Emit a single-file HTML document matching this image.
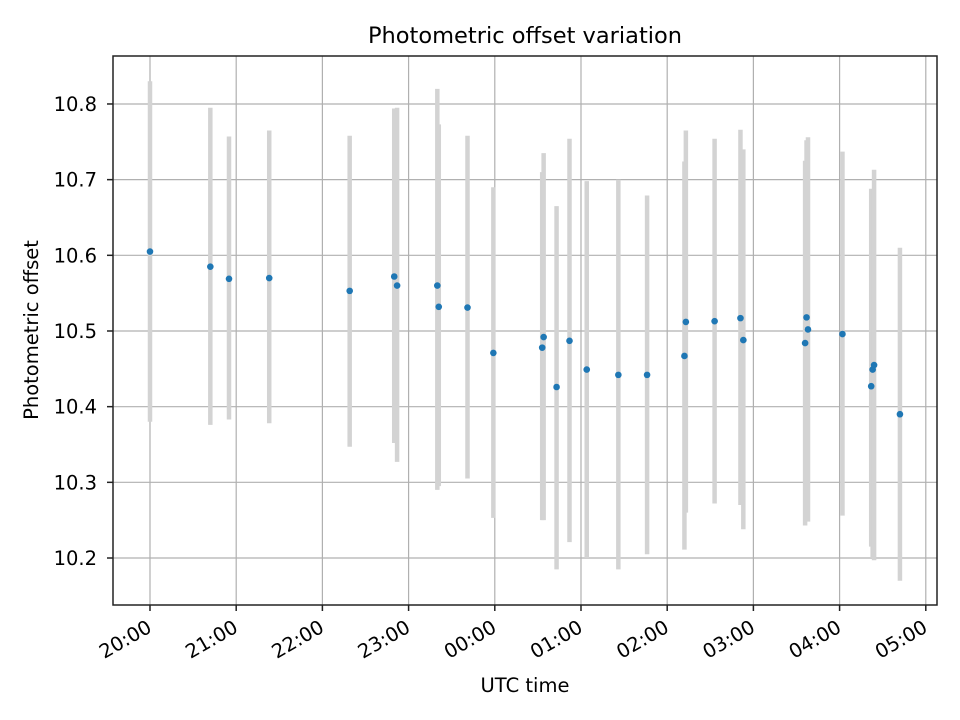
<!DOCTYPE html>
<html><head><meta charset="utf-8"><style>
html,body{margin:0;padding:0;background:#fff;}
svg{display:block;font-family:"DejaVu Sans","Liberation Sans",sans-serif;}
</style></head><body>
<svg id="chart" width="960" height="720" viewBox="0 0 960 720">
<rect width="960" height="720" fill="#fff"/>
<g id="grid"></g>
<g id="bars"></g>
<g id="pts"></g>
<rect x="113" y="56" width="824" height="549" fill="none" stroke="#222" stroke-width="1.5"/>
<g id="xt"></g><g id="yt"></g>
<text x="525" y="43" text-anchor="middle" font-size="22.5">Photometric offset variation</text>
<text x="525" y="692" text-anchor="middle" font-size="19.5">UTC time</text>
<text transform="translate(38,330) rotate(-90)" text-anchor="middle" font-size="19.5">Photometric offset</text>
</svg>
<script>
// minutes since 20:00
const times=[0,42,55,83,139,170,172,200,201,221,239,273,274,283,292,304,326,346,372,373,393,411,413,456,457,458,482,502,503,504,522];
const values=[10.605,10.585,10.569,10.570,10.553,10.572,10.560,10.560,10.532,10.531,10.471,10.478,10.492,10.426,10.487,10.449,10.442,10.442,10.467,10.512,10.513,10.517,10.488,10.484,10.518,10.502,10.496,10.427,10.449,10.455,10.390];
const lows=[10.38,10.376,10.383,10.378,10.347,10.352,10.327,10.29,10.295,10.305,10.253,10.25,10.25,10.185,10.221,10.2,10.185,10.205,10.211,10.26,10.272,10.27,10.238,10.243,10.25,10.248,10.256,10.215,10.2,10.197,10.170];
const highs=[10.83,10.795,10.757,10.765,10.758,10.794,10.795,10.82,10.773,10.758,10.690,10.71,10.735,10.665,10.754,10.698,10.70,10.679,10.724,10.765,10.754,10.766,10.740,10.725,10.752,10.756,10.737,10.688,10.643,10.713,10.610];
const xTickLabels=["20:00","21:00","22:00","23:00","00:00","01:00","02:00","03:00","04:00","05:00"];
const yTicks=[10.2,10.3,10.4,10.5,10.6,10.7,10.8];
const NS="http://www.w3.org/2000/svg";
const X0=113,X1=937,Y0=605,Y1=56,XMIN=-25.75,XMAX=547.8,YMIN=10.1379,YMAX=10.8634;
const sx=m=>X0+(m-XMIN)/(XMAX-XMIN)*(X1-X0);
const sy=v=>Y0-(v-YMIN)/(YMAX-YMIN)*(Y0-Y1);
function mk(tag,attrs,parent){const e=document.createElementNS(NS,tag);for(const k in attrs)e.setAttribute(k,attrs[k]);document.getElementById(parent).appendChild(e);return e;}
xTickLabels.forEach((lab,i)=>{
  const x=sx(i*60);
  const g=mk('line',{x1:x,x2:x,y1:Y1,y2:Y0,stroke:'#b0b0b0','stroke-width':1.2},'grid');
  
  
  const t=mk('line',{x1:x,x2:x,y1:Y0,y2:Y0+6,stroke:'#222','stroke-width':1.5},'xt');
  
  
  const tx=mk('text',{x:x+3,y:Y0+26,'text-anchor':'end','font-size':19.5,transform:`rotate(-30 ${x+3} ${Y0+26})`},'xt');
  tx.textContent=lab;
  
  
});
yTicks.forEach(v=>{
  const y=sy(v);
  const g=mk('line',{x1:X0,x2:X1,y1:y,y2:y,stroke:'#b0b0b0','stroke-width':1.2},'grid');
  
  
  const t=mk('line',{x1:X0-6,x2:X0,y1:y,y2:y,stroke:'#222','stroke-width':1.5},'yt');
  
  
  const tx=mk('text',{x:X0-16,y:y+7,'text-anchor':'end','font-size':19.5},'yt');
  tx.textContent=v.toFixed(1);
  
  
});
times.forEach((m,i)=>{
  const x=sx(m);
  const b=mk('line',{x1:x,x2:x,y1:sy(lows[i]),y2:sy(highs[i]),stroke:'#d3d3d3','stroke-width':4.5},'bars');
  
  
  const c=mk('circle',{cx:x,cy:sy(values[i]),r:3.3,fill:'#1f77b4'},'pts');
  
  
});
</script>
</body></html>
